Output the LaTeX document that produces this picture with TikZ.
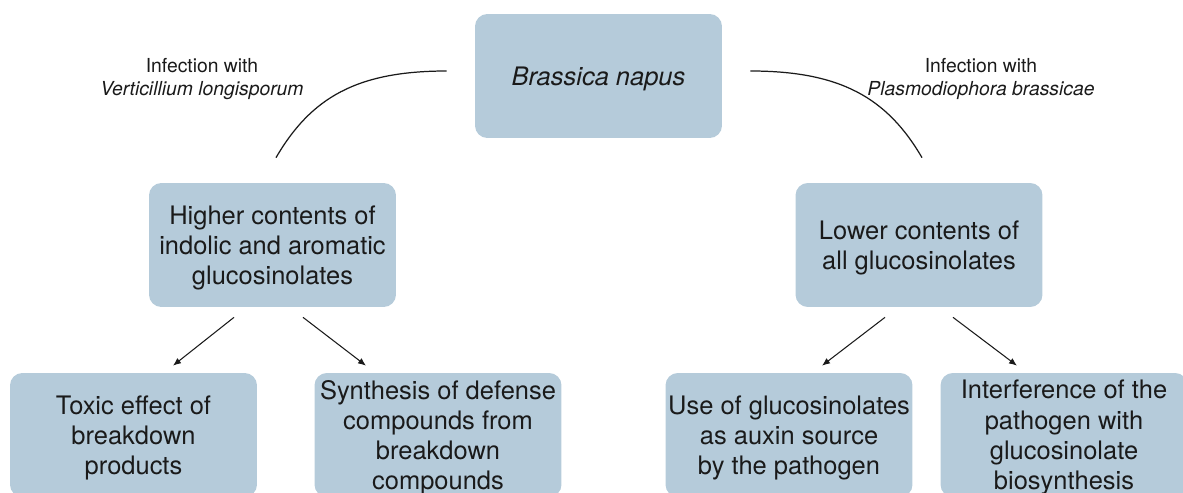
\documentclass[tikz,border=0pt]{standalone}
\usepackage{fontspec}
\setmainfont{TeX Gyre Heros}
\usetikzlibrary{arrows.meta,calc}
\definecolor{gsblue}{HTML}{B5CBDA}
\definecolor{gstext}{HTML}{1A1A1A}
\tikzset{
  gsbox/.style={fill=gsblue, rounded corners=7pt, align=center,
    minimum width=4.94cm, minimum height=2.48cm, inner sep=1pt, text depth=-0.4pt,
    text=gstext, font=\fontsize{14.5}{17.2}\selectfont},
  infnote/.style={align=center, text=gstext, inner sep=1pt,
    font=\fontsize{11}{13.3}\selectfont},
  effarrow/.style={-{Latex[length=1.6mm,width=1.3mm]}, line width=0.6pt, draw=gstext},
  infcurve/.style={line width=0.7pt, draw=gstext}
}

\begin{document}
\begin{tikzpicture}[x=0.02cm, y=-0.02cm]
  \useasboundingbox (0,0) rectangle (1183,493);
  \clip (0,0) rectangle (1183,493);
  % host plant and the two infections
  \node[gsbox] (bn) at (598.5,76) {\itshape Brassica napus};
  \node[infnote] (vlnote) at (202,79) {Infection with\\\itshape Verticillium longisporum};
  \node[infnote] (pbnote) at (981,79) {Infection with\\\itshape Plasmodiophora brassicae};
  \node[gsbox] (higher) at (272.5,245) {Higher contents of\\indolic and aromatic\\glucosinolates};
  \node[gsbox] (lower) at (919,245) {Lower contents of\\all glucosinolates};
  % consequences
  \node[gsbox] (toxic) at (133.5,435) {Toxic effect of\\breakdown\\products};
  \node[gsbox] (defense) at (438,435) {Synthesis of defense\\compounds from\\breakdown\\compounds};
  \node[gsbox] (auxin) at (789,435) {Use of glucosinolates\\as auxin source\\by the pathogen};
  \node[gsbox] (interf) at (1064,435) {Interference of the\\pathogen with\\glucosinolate\\biosynthesis};
  \draw[infcurve] ($(bn.west)+(-28,-5)$) .. controls +(-90,0) and +(35,-60) .. ($(higher.north)+(3.5,-25)$);
  \draw[infcurve] ($(bn.east)+(28,-5)$) .. controls +(90,0) and +(-35,-60) .. ($(lower.north)+(3,-25)$);
  \draw[effarrow] ($(higher.south)+(-38.5,10)$) -- ($(toxic.north)+(39.5,-7)$);
  \draw[effarrow] ($(higher.south)+(30.5,10)$) -- ($(defense.north)+(-72,-7)$);
  \draw[effarrow] ($(lower.south)+(-34,10)$) -- ($(auxin.north)+(33,-7)$);
  \draw[effarrow] ($(lower.south)+(34,10)$) -- ($(interf.north)+(-47,-7)$);
\end{tikzpicture}
\end{document}
